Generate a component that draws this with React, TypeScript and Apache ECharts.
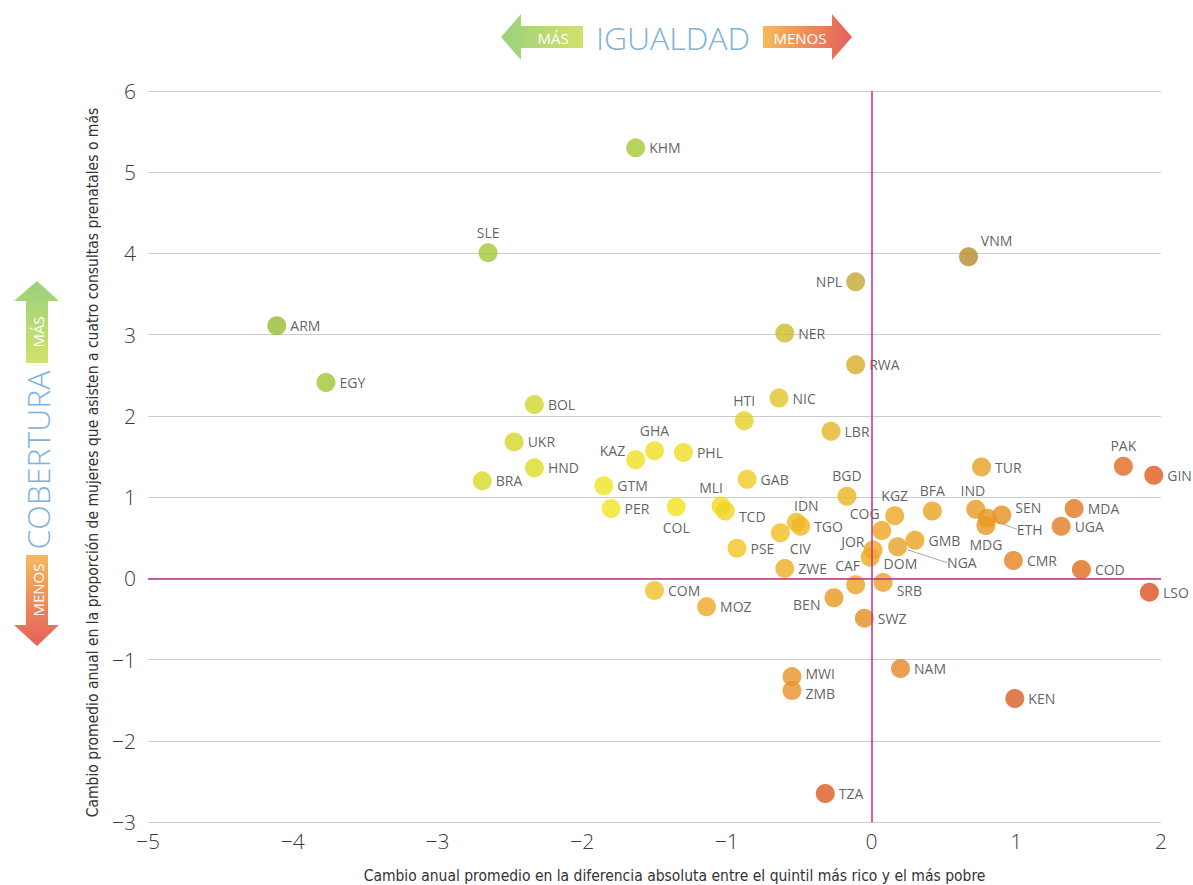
import React, { useEffect, useRef } from "react";
import * as echarts from "echarts";

// ---- Data ----
const countryCodes = [
  "KHM", "SLE", "ARM", "EGY", "BOL", "UKR", "HND", "BRA", "GTM", "PER",
  "KAZ", "GHA", "PHL", "COL", "MLI", "TCD", "GAB", "HTI", "NIC", "NER",
  "NPL", "RWA", "LBR", "VNM", "BGD", "IDN", "TGO", "CIV", "PSE", "ZWE",
  "COM", "MOZ", "BEN", "CAF", "SWZ", "SRB", "JOR", "DOM", "COG", "KGZ",
  "NGA", "GMB", "BFA", "IND", "SEN", "ETH", "MDG", "TUR", "MDA", "UGA",
  "PAK", "GIN", "CMR", "COD", "LSO", "NAM", "KEN", "MWI", "ZMB", "TZA",
];

// Annual change in absolute gap richest vs poorest quintile
const gapChange = [
  -1.63, -2.65, -4.11, -3.77, -2.33, -2.47, -2.33, -2.69, -1.85, -1.80,
  -1.63, -1.50, -1.30, -1.35, -1.04, -1.01, -0.86, -0.88, -0.64, -0.60,
  -0.11, -0.11, -0.28, 0.67, -0.17, -0.52, -0.49, -0.63, -0.93, -0.60,
  -1.50, -1.14, -0.26, -0.11, -0.05, 0.08, 0.01, -0.01, 0.07, 0.16,
  0.18, 0.30, 0.42, 0.72, 0.90, 0.80, 0.79, 0.76, 1.40, 1.31,
  1.74, 1.95, 0.98, 1.45, 1.92, 0.20, 0.99, -0.55, -0.55, -0.32,
];

// Annual change in proportion of women with 4+ antenatal visits
const coverageChange = [
  5.30, 4.01, 3.11, 2.41, 2.14, 1.68, 1.36, 1.20, 1.14, 0.86,
  1.46, 1.57, 1.55, 0.88, 0.89, 0.83, 1.22, 1.94, 2.22, 3.02,
  3.65, 2.63, 1.81, 3.96, 1.01, 0.69, 0.64, 0.56, 0.37, 0.12,
  -0.15, -0.35, -0.24, -0.08, -0.49, -0.05, 0.35, 0.26, 0.59, 0.77,
  0.39, 0.47, 0.83, 0.85, 0.78, 0.74, 0.65, 1.37, 0.86, 0.64,
  1.38, 1.27, 0.22, 0.11, -0.17, -1.11, -1.48, -1.21, -1.38, -2.65,
];

const xMin = -5;
const xMax = 2;
const yMin = -3;
const yMax = 6;

// ---- Styles ----
const pointColors: Record<string, string> = {
  KHM: "#a4c934", SLE: "#a2c536", ARM: "#96be2f", EGY: "#a3c530", BOL: "#d0d62b",
  UKR: "#d4d629", HND: "#dcdc25", BRA: "#d8da26", GTM: "#eee323", PER: "#f0e522",
  KAZ: "#efde22", GHA: "#f0e020", PHL: "#efdc24", COL: "#f5e11e", MLI: "#f2d820",
  TCD: "#f0d422", GAB: "#f0ca24", HTI: "#e6d026", NIC: "#e0c629", NER: "#ccbb2c",
  NPL: "#c3a932", RWA: "#d8ab2a", LBR: "#e6b424", VNM: "#b98a2a", BGD: "#ecb421",
  IDN: "#f0ba20", TGO: "#efb621", CIV: "#f2bd22", PSE: "#f2c423", ZWE: "#eeac22",
  COM: "#f0c125", MOZ: "#eca924", BEN: "#e8961f", CAF: "#eca022", SWZ: "#e68c1f",
  SRB: "#eba026", JOR: "#eea422", DOM: "#eeaa22", COG: "#eca520", KGZ: "#eca820",
  NGA: "#eaa024", GMB: "#eaa321", BFA: "#e9a41f", IND: "#e89a22", SEN: "#e68e21",
  ETH: "#e8951f", MDG: "#e89820", TUR: "#e8a020", MDA: "#e2781f", UGA: "#e27a20",
  PAK: "#e06a20", GIN: "#e05a1f", CMR: "#e6821f", COD: "#e16c1e", LSO: "#dd4f1f",
  NAM: "#e58624", KEN: "#d95c22", MWI: "#e89428", ZMB: "#e8902a", TZA: "#dc5a24",
};

// label position and pixel shift [dx, dy] relative to that position
type Placement = { position: string; shift?: [number, number] };
const labelPlacement: Record<string, Placement> = {
  SLE: { position: "top" },
  GHA: { position: "top" },
  HTI: { position: "top" },
  BGD: { position: "top" },
  KGZ: { position: "top" },
  BFA: { position: "top" },
  PAK: { position: "top" },
  IND: { position: "top", shift: [-3, 2] },
  IDN: { position: "top", shift: [10, 4] },
  MLI: { position: "top", shift: [-10, 2] },
  VNM: { position: "top", shift: [28, 4] },
  CAF: { position: "top", shift: [-8, 1] },
  COG: { position: "top", shift: [-17, 4] },
  NPL: { position: "left" },
  KAZ: { position: "left", shift: [3, -9] },
  JOR: { position: "left", shift: [5, -8] },
  BEN: { position: "left", shift: [0, 7] },
  COL: { position: "bottom" },
  MDG: { position: "bottom", shift: [0, -2] },
  CIV: { position: "bottom", shift: [20, -5] },
  TCD: { position: "right", shift: [0, 6] },
  DOM: { position: "right", shift: [0, 6] },
  SRB: { position: "right", shift: [0, 8] },
  SEN: { position: "right", shift: [0, -7] },
  MWI: { position: "right", shift: [0, -3] },
  ZMB: { position: "right", shift: [0, 3] },
  NGA: { position: "right", shift: [36, 16] },
  ETH: { position: "right", shift: [16, 11] },
};
const withLeader = ["NGA", "ETH"];

const fmtNum = (v: number) => (v < 0 ? "\u2212" + Math.abs(v) : String(v));
const uiFont = "'Open Sans', 'Noto Sans', sans-serif";
const narrowFont = "'Liberation Sans Narrow', 'DejaVu Sans Condensed', 'Noto Sans', sans-serif";

export default function App() {
  const ref = useRef<HTMLDivElement>(null);

  useEffect(() => {
    if (!ref.current) return;
    const chart = echarts.init(ref.current, undefined, { renderer: "svg" });

    const points = countryCodes.map((code, i) => {
      const place = labelPlacement[code] || { position: "right" };
      const item: any = {
        name: code,
        value: [gapChange[i], coverageChange[i]],
        itemStyle: { color: pointColors[code] },
        label: { position: place.position },
      };
      if (withLeader.includes(code)) {
        item.labelLine = { show: true, lineStyle: { color: "#a8a8a8", width: 1 } };
      }
      return item;
    });

    const greenGrad = (x2: number, y2: number) =>
      new echarts.graphic.LinearGradient(0, 0, x2, y2, [
        { offset: 0, color: "#9bd07c" },
        { offset: 1, color: "#d2e26c" },
      ]);
    const redGrad = (x2: number, y2: number) =>
      new echarts.graphic.LinearGradient(0, 0, x2, y2, [
        { offset: 0, color: "#f5ba5c" },
        { offset: 1, color: "#e3605a" },
      ]);

    const arrowText = (x: number, y: number, text: string, rotate = 0) => ({
      type: "text",
      x,
      y,
      rotation: rotate,
      style: {
        text,
        fill: "#ffffff",
        fontSize: 15,
        fontFamily: uiFont,
        align: "center",
        verticalAlign: "middle",
      },
    });

    const titleText = (x: number, y: number, text: string, rotate = 0) => ({
      type: "text",
      x,
      y,
      rotation: rotate,
      style: {
        text,
        fill: "#7eb1dc",
        fontSize: 32,
        fontWeight: 300,
        fontFamily: uiFont,
        align: "center",
        verticalAlign: "middle",
      },
    });

    chart.setOption({
      animation: false,
      backgroundColor: "#ffffff",
      grid: { left: 148, right: 32, top: 91, bottom: 63, outerBoundsMode: "none" },
      xAxis: {
        type: "value",
        min: xMin,
        max: xMax,
        interval: 1,
        name: "Cambio anual promedio en la diferencia absoluta entre el quintil más rico y el más pobre",
        nameLocation: "middle",
        nameGap: 46,
        nameTextStyle: {
          fontSize: 15.5,
          color: "#333333",
          fontFamily: narrowFont,
          padding: [0, 0, 0, 40],
        },
        axisLine: { show: false },
        axisTick: { show: false },
        splitLine: { show: false },
        axisLabel: {
          formatter: fmtNum,
          fontSize: 21,
          color: "#3a3a3a",
          fontWeight: 300,
          margin: 8,
          fontFamily: uiFont,
        },
      },
      yAxis: {
        type: "value",
        min: yMin,
        max: yMax,
        interval: 1,
        name: "Cambio promedio anual en la proporción de mujeres que asisten a cuatro consultas prenatales o más",
        nameLocation: "middle",
        nameRotate: 90,
        nameGap: 42,
        nameTextStyle: {
          fontSize: 15.5,
          color: "#333333",
          fontFamily: narrowFont,
          padding: [0, 12, 0, 0],
        },
        axisLine: { show: false },
        axisTick: { show: false },
        splitLine: { show: true, lineStyle: { color: "#cccccc", width: 1 } },
        axisLabel: {
          formatter: fmtNum,
          fontSize: 21,
          color: "#3a3a3a",
          fontWeight: 300,
          margin: 12,
          fontFamily: uiFont,
        },
      },
      series: [
        {
          type: "scatter",
          z: 2,
          symbolSize: 19,
          data: points,
          label: {
            show: true,
            formatter: "{b}",
            fontSize: 14,
            color: "#383838",
            distance: 4,
            fontFamily: uiFont,
          },
          labelLayout: (params: any) => {
            const p = labelPlacement[countryCodes[params.dataIndex]];
            return p && p.shift ? { dx: p.shift[0], dy: p.shift[1] } : {};
          },
        },
        {
          type: "scatter",
          data: [],
          z: 5,
          markLine: {
            silent: true,
            symbol: "none",
            label: { show: false },
            lineStyle: { color: "#c0308c", type: "solid", width: 1.5 },
            data: [{ xAxis: 0 }, { yAxis: 0 }],
          },
        },
      ],
      graphic: [
        // Top: IGUALDAD arrows
        {
          type: "polygon",
          shape: {
            points: [[501, 37], [521, 14], [521, 26], [583, 26], [583, 48], [521, 48], [521, 60]],
          },
          style: { fill: greenGrad(1, 0) },
        },
        arrowText(553, 38, "MÁS"),
        titleText(673, 37, "IGUALDAD"),
        {
          type: "polygon",
          shape: {
            points: [[763, 26], [832, 26], [832, 14], [852, 37], [832, 60], [832, 48], [763, 48]],
          },
          style: { fill: redGrad(1, 0) },
        },
        arrowText(800, 38, "MENOS"),
        // Left: COBERTURA arrows
        {
          type: "polygon",
          shape: {
            points: [[37, 281], [59, 301], [48, 301], [48, 363], [26, 363], [26, 301], [14, 301]],
          },
          style: { fill: greenGrad(0, 1) },
        },
        arrowText(38, 332, "MÁS", Math.PI / 2),
        titleText(37, 460, "COBERTURA", Math.PI / 2),
        {
          type: "polygon",
          shape: {
            points: [[26, 555], [48, 555], [48, 625], [59, 625], [37, 646], [14, 625], [26, 625]],
          },
          style: { fill: redGrad(0, 1) },
        },
        arrowText(38, 590, "MENOS", Math.PI / 2),
      ],
    });

    return () => chart.dispose();
  }, []);

  return (
    <div
      ref={ref}
      style={{ position: "fixed", left: 0, top: 0, width: 1193, height: 885, background: "#fff" }}
    />
  );
}
